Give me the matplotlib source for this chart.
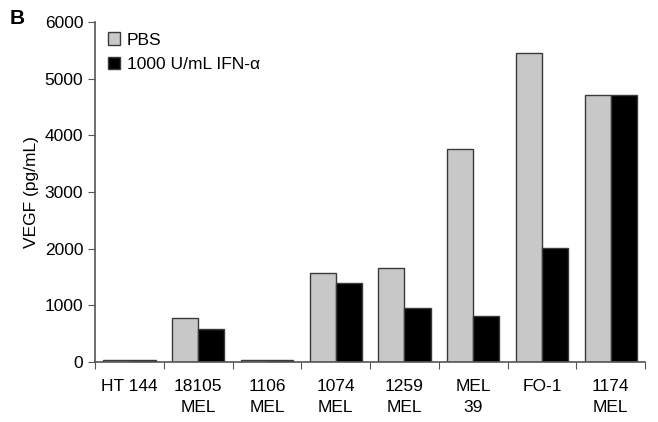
import matplotlib
matplotlib.use('Agg')
import numpy as np
from matplotlib import pyplot as plt

plt.rcParams['font.family'] = ['Liberation Sans', 'DejaVu Sans']

categories = ['HT 144', '18105\nMEL', '1106\nMEL', '1074\nMEL', '1259\nMEL', 'MEL\n39', 'FO-1', '1174\nMEL']
pbs = [30, 780, 30, 1580, 1660, 3750, 5460, 4720]
ifn = [30, 580, 30, 1400, 960, 810, 2020, 4720]
y_ticks = [0, 1000, 2000, 3000, 4000, 5000, 6000]

fig = plt.figure(figsize=(6.58, 4.22), dpi=100)
ax = fig.add_axes([0.1444, 0.142, 0.836, 0.806])

x = np.arange(len(categories))
w = 0.38
edge = '#3a3a3a'
ax.bar(x - w / 2, pbs, w, color='#c8c8c8', edgecolor=edge, linewidth=1.0, label='PBS')
ax.bar(x + w / 2, ifn, w, color='black', edgecolor=edge, linewidth=1.0, label='1000 U/mL IFN-\u03b1')

ax.set_xlim(-0.5, len(categories) - 0.5)
ax.set_ylim(0, 6000)
ax.set_yticks(y_ticks)
ax.set_xticks(np.arange(len(categories) + 1) - 0.5)
ax.set_xticklabels([])
ax.set_xticks(x, minor=True)
ax.set_xticklabels(categories, minor=True, fontsize=12.5, linespacing=1.5)
ax.tick_params(axis='x', which='minor', length=0, pad=12)
ax.tick_params(axis='x', which='major', length=5, color='#555555')
ax.tick_params(axis='y', length=5, color='#555555', labelsize=12.5)

for s in ['top', 'right']:
    ax.spines[s].set_visible(False)
for s in ['left', 'bottom']:
    ax.spines[s].set_color('#555555')
    ax.spines[s].set_linewidth(1.2)

ax.set_ylabel('VEGF (pg/mL)', fontsize=12.5, labelpad=4)

ax.legend(loc='upper left', bbox_to_anchor=(-0.005, 1.015), frameon=False, fontsize=12.5,
          handlelength=0.7, handleheight=0.7, handletextpad=0.4, labelspacing=0.55)

fig.text(0.015, 0.955, 'B', fontsize=15, fontweight='bold', va='center')

fig.savefig('out.png', dpi=100)
